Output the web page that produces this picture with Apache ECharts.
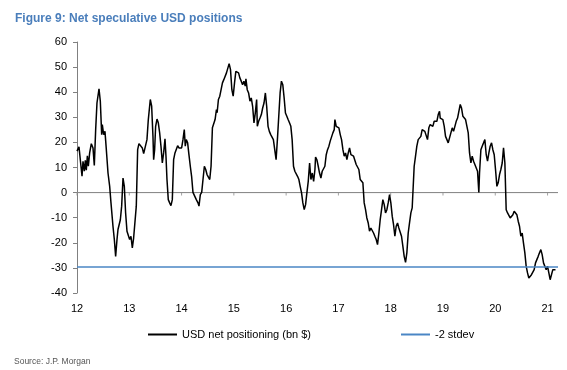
<!DOCTYPE html>
<html>
<head>
<meta charset="utf-8">
<script src="https://cdn.jsdelivr.net/npm/echarts@6/dist/echarts.min.js"></script>
<style>
html,body{margin:0;padding:0;background:#fff;}
#chart{width:567px;height:370px;}
</style>
</head>
<body>
<div id="chart"></div>
<script>
// Decimal year (12 = 2012) and USD net positioning (bn $)
const usdNetPositioning = [
[12.000,16.5],[12.038,18.2],[12.064,17.8],[12.096,6.5],[12.115,12.5],[12.140,8.5],[12.159,12.9],[12.178,8.9],[12.198,14.7],[12.217,10.5],
[12.242,15.8],[12.274,19.5],[12.306,17.8],[12.331,10.8],[12.357,25.1],[12.382,35.7],[12.421,41.3],[12.446,36.4],[12.472,23.1],[12.484,27.1],
[12.510,23.1],[12.535,24.4],[12.561,17.1],[12.593,7.8],[12.625,2.5],[12.650,-4.1],[12.669,-3.5],[12.688,-13.4],[12.714,-18.7],[12.739,-25.4],
[12.765,-18.7],[12.784,-14.7],[12.803,-15.4],[12.829,-10.8],[12.854,-5.4],[12.880,5.8],[12.905,2.5],[12.930,-8.1],[12.956,-15.4],[12.981,-16.1],
[13.007,-18.7],[13.032,-17.4],[13.058,-22.0],[13.083,-18.1],[13.109,-17.4],[13.134,-5.4],[13.160,17.1],[13.185,19.5],[13.211,19.1],[13.249,17.8],
[13.275,15.5],[13.313,15.8],[13.338,21.1],[13.364,29.1],[13.402,37.1],[13.428,34.4],[13.453,22.4],[13.466,13.1],[13.485,17.1],[13.504,26.4],
[13.530,29.3],[13.555,27.8],[13.581,23.8],[13.606,18.5],[13.632,11.8],[13.657,15.8],[13.683,21.4],[13.702,14.5],[13.721,5.2],[13.746,-2.8],
[13.772,-4.1],[13.797,-5.2],[13.823,-2.8],[13.848,13.1],[13.874,15.8],[13.899,16.5],[13.925,18.7],[13.950,17.8],[13.976,18.5],[14.001,17.8],
[14.027,21.1],[14.052,25.1],[14.071,18.5],[14.090,21.1],[14.116,19.8],[14.141,15.1],[14.167,10.5],[14.192,6.5],[14.218,0.1],[14.243,0.1],
[14.282,-2.8],[14.314,-4.1],[14.333,-5.4],[14.359,-0.8],[14.385,0.1],[14.410,5.2],[14.436,10.5],[14.462,9.2],[14.487,7.2],[14.513,6.5],
[14.539,5.2],[14.564,10.5],[14.590,25.8],[14.615,26.4],[14.641,29.1],[14.667,33.1],[14.680,31.8],[14.705,37.1],[14.731,38.4],[14.756,41.0],
[14.782,43.7],[14.808,45.0],[14.833,44.4],[14.859,47.7],[14.885,48.3],[14.910,51.4],[14.936,49.0],[14.962,41.0],[14.987,38.4],[15.013,43.7],
[15.038,48.3],[15.064,47.7],[15.090,47.7],[15.115,45.7],[15.141,44.4],[15.167,43.0],[15.192,44.4],[15.218,42.4],[15.231,45.3],[15.256,41.0],
[15.282,39.7],[15.308,36.4],[15.333,37.7],[15.359,34.4],[15.385,27.8],[15.410,31.7],[15.436,37.1],[15.449,26.4],[15.474,28.4],[15.500,29.7],
[15.526,31.1],[15.551,33.7],[15.577,35.7],[15.603,39.7],[15.628,34.4],[15.654,26.4],[15.679,24.4],[15.705,23.1],[15.731,23.1],[15.756,21.1],
[15.782,20.5],[15.808,13.1],[15.833,21.1],[15.859,30.4],[15.885,39.7],[15.910,44.4],[15.936,43.0],[15.962,37.7],[15.987,31.7],[16.013,30.4],
[16.038,29.1],[16.064,27.8],[16.090,26.4],[16.115,21.1],[16.141,10.5],[16.167,8.5],[16.192,7.8],[16.218,6.5],[16.244,5.2],[16.269,2.5],
[16.295,-0.1],[16.320,-4.1],[16.346,-6.8],[16.372,-4.8],[16.397,-0.1],[16.423,4.5],[16.449,11.8],[16.474,5.2],[16.500,7.8],[16.526,4.5],
[16.551,9.2],[16.563,14.2],[16.588,13.1],[16.614,10.5],[16.639,7.8],[16.665,5.8],[16.690,8.5],[16.716,7.8],[16.741,10.5],[16.767,15.1],
[16.792,17.1],[16.818,18.5],[16.843,20.5],[16.869,21.1],[16.894,23.8],[16.920,25.1],[16.933,29.1],[16.958,26.4],[16.984,26.7],[17.009,25.8],
[17.035,23.1],[17.060,21.1],[17.086,17.1],[17.111,14.5],[17.137,15.8],[17.162,13.1],[17.188,15.8],[17.213,17.8],[17.239,15.1],[17.264,14.5],
[17.290,14.5],[17.315,13.8],[17.340,11.2],[17.366,11.2],[17.391,9.2],[17.417,5.2],[17.442,4.5],[17.468,3.9],[17.493,-4.1],[17.519,-6.8],
[17.544,-10.1],[17.570,-12.1],[17.595,-15.4],[17.621,-14.1],[17.646,-14.7],[17.672,-16.1],[17.697,-17.4],[17.723,-18.7],[17.748,-20.7],[17.774,-16.1],
[17.799,-10.8],[17.825,-6.8],[17.850,-2.8],[17.876,-4.8],[17.901,-8.1],[17.927,-6.8],[17.952,-4.1],[17.978,-0.8],[18.003,-4.1],[18.029,-9.4],
[18.054,-12.7],[18.080,-17.4],[18.105,-13.4],[18.131,-12.1],[18.156,-14.1],[18.182,-14.7],[18.207,-17.4],[18.233,-21.4],[18.258,-25.4],[18.284,-27.8],
[18.309,-24.0],[18.335,-16.1],[18.360,-12.1],[18.386,-8.1],[18.411,-6.1],[18.424,-6.8],[18.449,10.5],[18.475,14.5],[18.500,18.5],[18.526,21.1],
[18.551,21.8],[18.577,22.4],[18.602,25.1],[18.628,25.1],[18.653,24.4],[18.679,24.4],[18.704,21.1],[18.730,25.8],[18.755,27.1],[18.781,27.8],
[18.806,26.4],[18.832,28.4],[18.857,29.1],[18.883,28.4],[18.909,31.1],[18.934,32.4],[18.947,29.7],[18.973,29.1],[18.998,29.1],[19.024,26.4],
[19.049,22.4],[19.075,21.1],[19.100,19.8],[19.126,19.1],[19.151,23.8],[19.177,25.8],[19.202,24.4],[19.228,26.4],[19.253,28.4],[19.279,29.7],
[19.304,32.4],[19.330,35.1],[19.355,33.7],[19.381,30.4],[19.406,31.1],[19.432,29.1],[19.457,28.4],[19.483,23.8],[19.508,15.8],[19.534,11.8],
[19.559,14.5],[19.585,12.5],[19.610,11.2],[19.636,10.5],[19.661,8.5],[19.686,0.1],[19.699,7.8],[19.725,17.1],[19.750,18.5],[19.776,19.8],
[19.801,21.1],[19.827,15.1],[19.852,12.5],[19.878,15.8],[19.903,18.5],[19.929,19.8],[19.954,17.1],[19.980,15.1],[20.005,9.2],[20.031,2.5],
[20.056,3.9],[20.082,7.2],[20.107,9.2],[20.133,11.8],[20.158,17.8],[20.184,11.8],[20.209,-6.8],[20.235,-8.1],[20.260,-8.8],[20.286,-10.1],
[20.311,-10.8],[20.337,-8.8],[20.362,-7.4],[20.388,-6.8],[20.413,-8.8],[20.439,-11.4],[20.464,-13.4],[20.489,-17.4],[20.515,-16.1],[20.540,-20.1],
[20.566,-24.0],[20.591,-29.3],[20.617,-32.0],[20.642,-34.0],[20.668,-33.3],[20.693,-32.7],[20.719,-33.3],[20.744,-30.7],[20.770,-28.0],[20.795,-27.4],
[20.821,-25.4],[20.846,-24.0],[20.872,-22.7],[20.897,-24.7],[20.923,-28.0],[20.948,-27.4],[20.974,-30.7],[20.999,-29.3],[21.025,-32.0],[21.050,-34.7],
[21.076,-34.0],[21.101,-30.7],[21.127,-30.4],[21.152,-30.7]
];
const minus2Stdev = -29.6;
const zeroLevel = 0;
const yearTicks = [12, 13, 14, 15, 16, 17, 18, 19, 20, 21];
const yTicks = [-40, -30, -20, -10, 0, 10, 20, 30, 40, 50, 60];
const xRange = [12, 21.2];
const yRange = [-40, 60];
const seriesNames = ['USD net positioning (bn $)', '-2 stdev'];

const ZERO_COLOR = '#8c8c8c';
const splitColors = yTicks.map(v => v === zeroLevel ? ZERO_COLOR : 'rgba(0,0,0,0)');

const chart = echarts.init(document.getElementById('chart'));
const FONT = '"Liberation Sans", Arial, sans-serif';
chart.setOption({
  animation: false,
  backgroundColor: '#ffffff',
  textStyle: { fontFamily: FONT },
  title: [
    { text: 'Figure 9: Net speculative USD positions', left: 10, top: 8,
      textStyle: { fontFamily: FONT, fontSize: 12, fontWeight: 'bold', color: '#4a7ebb' } },
    { text: 'Source: J.P. Morgan', left: 9, top: 352,
      textStyle: { fontFamily: FONT, fontSize: 8.5, fontWeight: 'normal', color: '#555555' } }
  ],
  grid: { left: 77, right: 9, top: 42, bottom: 77, containLabel: false },
  legend: {
    left: 143, top: 324, itemWidth: 29, itemHeight: 2, itemGap: 90, icon: 'rect',
    textStyle: { fontFamily: FONT, fontSize: 11, color: '#000' },
    data: seriesNames
  },
  xAxis: {
    type: 'value', min: xRange[0], max: xRange[1], interval: 1, position: 'bottom',
    axisLine: { show: false, onZero: false }, axisTick: { show: false }, splitLine: { show: false },
    axisLabel: { customValues: yearTicks, margin: 10, fontSize: 11, color: '#000', fontFamily: FONT,
      formatter: v => String(v) }
  },
  yAxis: {
    type: 'value', min: yRange[0], max: yRange[1], interval: 10,
    axisLine: { show: true, onZero: false, lineStyle: { color: '#808080', width: 1 } },
    axisTick: { show: true, length: 4, lineStyle: { color: '#808080' } },
    splitLine: { show: true, lineStyle: { color: splitColors, width: 1 } },
    axisLabel: { customValues: yTicks, margin: 10, fontSize: 11, color: '#000', fontFamily: FONT }
  },
  series: [
    { name: 'zeroLine', type: 'line', z: 2,
      data: [[xRange[0], zeroLevel], [xRange[1], zeroLevel]],
      showSymbol: false, symbol: 'none', lineStyle: { color: ZERO_COLOR, width: 1 }, itemStyle: { color: ZERO_COLOR } },
    { name: 'zeroTicks', type: 'scatter', silent: true, z: 2,
      data: yearTicks.map(y => [y, zeroLevel]),
      symbol: 'rect', symbolSize: [1, 3], symbolOffset: [0, 1.5],
      itemStyle: { color: ZERO_COLOR } },
    { name: seriesNames[0], type: 'line', data: usdNetPositioning,
      showSymbol: false, symbol: 'none', lineStyle: { color: '#000000', width: 1.5 }, itemStyle: { color: '#000' }, z: 3 },
    { name: seriesNames[1], type: 'line',
      data: [[xRange[0], minus2Stdev], [xRange[1], minus2Stdev]],
      showSymbol: false, symbol: 'none', lineStyle: { color: '#4a86c5', width: 1.5 }, itemStyle: { color: '#4a86c5' }, z: 4 }
  ]
});
</script>
</body>
</html>
